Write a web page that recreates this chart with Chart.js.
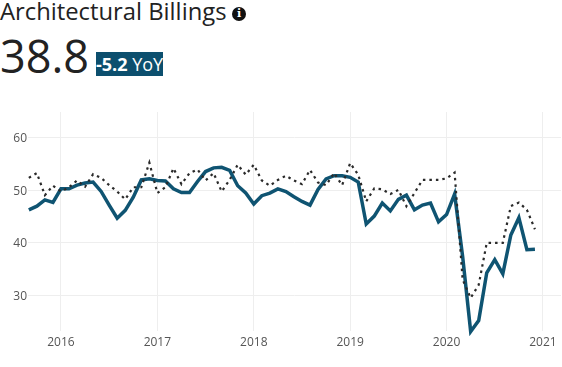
<!DOCTYPE html>
<html>
<head>
<meta charset="utf-8">
<title>Architectural Billings</title>
<script src="https://cdn.jsdelivr.net/npm/chart.js@4"></script>
<style>
  html, body { margin: 0; padding: 0; background: #fff; overflow: hidden; }
  body { width: 562px; height: 367px; position: relative; font-family: "Open Sans", sans-serif; color: #222; }
  #title { position: absolute; left: 0; top: -5px; font-size: 23.8px; line-height: 32px; white-space: nowrap; }
  #info { position: absolute; left: 232px; top: 7px; width: 14px; height: 14px; border-radius: 50%; background: #111; color: #fff;
          font: bold 11px/14px "DejaVu Serif", serif; text-align: center; }
  #value { position: absolute; left: 0; top: 28px; font-size: 45px; line-height: 56px; white-space: nowrap; }
  #badge { position: absolute; left: 96px; top: 52px; width: 67px; height: 24px; background: #0c4f6e; color: #fff; font-size: 18px; line-height: 24px; white-space: nowrap; text-align: center; }
  #badge b { font-weight: 700; }
  canvas { position: absolute; left: 0; top: 0; }
</style>
</head>
<body>
<div id="title">Architectural Billings</div>
<div id="info">i</div>
<div id="value">38.8</div>
<div id="badge"><b>-5.2</b> YoY</div>
<canvas id="myChart" width="562" height="367"></canvas>
<script>
// Meses de set/2015 a dez/2020
const years = [2015, 2016, 2017, 2018, 2019, 2020];
const firstMonth = [8, 0, 0, 0, 0, 0];

// Valores
const billings = [
  46.3, 47.0, 48.2, 47.7,
  50.3, 50.3, 51.0, 51.4, 51.6, 49.8, 47.2, 44.7, 46.2, 48.7, 52.0, 52.2,
  51.9, 51.8, 50.3, 49.6, 49.6, 51.7, 53.6, 54.3, 54.4, 53.8, 50.9, 49.5,
  47.4, 49.0, 49.5, 50.3, 49.8, 48.8, 47.9, 47.2, 50.2, 52.2, 52.8, 52.8,
  52.5, 51.6, 43.6, 45.1, 47.6, 46.1, 48.3, 49.1, 46.3, 47.2, 47.6, 44.0,
  45.4, 49.3, 37.4, 23.1, 25.2, 34.3, 36.8, 34.1, 41.5, 44.8, 38.7, 38.8
];
const newProjects = [
  52.4, 53.3, 49.1, 50.9,
  49.8, 50.6, 51.9, 50.7, 53.1, 52.4, 51.0, 49.8, 48.3, 50.6, 50.6, 55.3,
  49.5, 50.6, 54.2, 51.2, 53.3, 54.0, 51.9, 53.3, 49.8, 52.0, 54.9, 53.0,
  54.9, 51.9, 50.9, 52.0, 52.8, 51.9, 51.2, 53.9, 51.5, 51.0, 53.3, 51.0,
  55.2, 53.0, 47.9, 50.4, 50.2, 49.3, 50.1, 47.0, 49.5, 52.0, 52.0, 52.0,
  52.3, 53.4, 33.0, 29.5, 32.0, 40.0, 40.0, 40.0, 47.0, 47.7, 46.3, 42.6
];

// Eixo x em anos decimais
const xValues = [];
years.forEach((y, i) => {
  for (let m = firstMonth[i]; m < 12; m++) xValues.push(y + m / 12);
});

const toPoints = arr => arr.map((v, i) => ({ x: xValues[i], y: v }));
const gridColor = '#eeeeee';
const tickColor = '#555555';

new Chart(document.getElementById('myChart'), {
  type: 'line',
  data: {
    datasets: [
      { data: toPoints(newProjects), borderColor: '#2a2a2a', borderWidth: 2.2, borderDash: [2.5, 4], pointRadius: 0, tension: 0, clip: false },
      { data: toPoints(billings), borderColor: '#0f5472', borderWidth: 3.5, pointRadius: 0, tension: 0, clip: false }
    ]
  },
  options: {
    responsive: false,
    animation: false,
    parsing: false,
    layout: { padding: { top: 112, right: 1, bottom: 10, left: 0 } },
    plugins: { legend: { display: false }, tooltip: { enabled: false } },
    scales: {
      x: {
        type: 'linear',
        min: 2015.658,
        max: 2021.187,
        afterFit: s => { s.height = 26; },
        grid: { color: gridColor, drawTicks: false },
        border: { display: false },
        ticks: {
          stepSize: 1,
          includeBounds: false,
          maxRotation: 0,
          padding: 4,
          color: tickColor,
          font: { family: 'Open Sans', size: 12 },
          callback: v => String(v)
        }
      },
      y: {
        min: 23.2,
        max: 64.95,
        afterFit: s => { s.width = 28; },
        grid: { color: gridColor, drawTicks: false },
        border: { display: false },
        ticks: {
          stepSize: 10,
          includeBounds: false,
          padding: 1,
          labelOffset: 1,
          color: tickColor,
          font: { family: 'Open Sans', size: 12 }
        }
      }
    }
  }
});
</script>
</body>
</html>
